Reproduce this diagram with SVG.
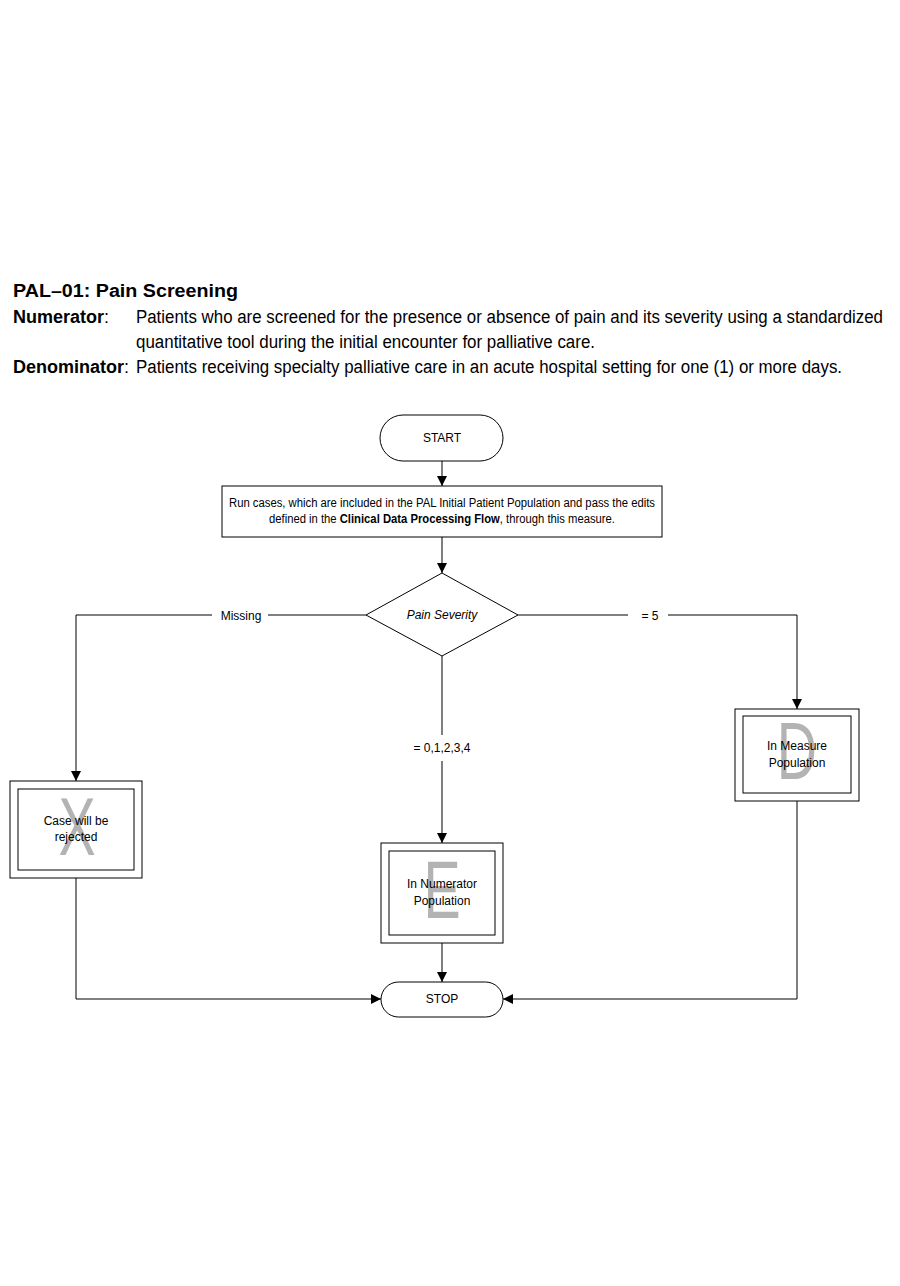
<svg xmlns="http://www.w3.org/2000/svg" width="900" height="1286" viewBox="0 0 900 1286">
<style>
.hd{font-family:"Liberation Sans",Arial,sans-serif;font-size:18px;fill:#000}
.b{font-weight:bold}
.t{font-family:"Liberation Sans",Arial,sans-serif;font-size:12px;fill:#000}
.shape{fill:#fff;stroke:#000;stroke-width:1}
.big{font-family:"Liberation Sans",Arial,sans-serif;font-size:82px;fill:#b3b3b3}
.ln{fill:none;stroke:#000;stroke-width:1}
</style>
<defs>
<marker id="ah" markerWidth="10" markerHeight="10" refX="10" refY="5" orient="auto" markerUnits="userSpaceOnUse">
<path d="M0,0 L10,5 L0,10 Z" fill="#000"/>
</marker>
</defs>
<rect width="900" height="1286" fill="#fff"/>
<g id="header">
<text x="13" y="297" class="hd b" font-size="21" textLength="225" lengthAdjust="spacingAndGlyphs">PAL–01: Pain Screening</text>
<text x="13" y="323" class="hd b">Numerator<tspan font-weight="normal">:</tspan></text>
<text x="136" y="323" class="hd" textLength="747" lengthAdjust="spacingAndGlyphs">Patients who are screened for the presence or absence of pain and its severity using a standardized</text>
<text x="136" y="348" class="hd" textLength="459" lengthAdjust="spacingAndGlyphs">quantitative tool during the initial encounter for palliative care.</text>
<text x="13" y="373" class="hd b">Denominator<tspan font-weight="normal">:</tspan></text>
<text x="136" y="373" class="hd" textLength="706" lengthAdjust="spacingAndGlyphs">Patients receiving specialty palliative care in an acute hospital setting for one (1) or more days.</text>
</g>
<g id="connectors">
<line class="ln" x1="442" y1="461" x2="442" y2="486" marker-end="url(#ah)"/>
<line class="ln" x1="442" y1="537" x2="442" y2="573" marker-end="url(#ah)"/>
<polyline class="ln" points="366,615 268,615"/>
<polyline class="ln" points="212,615 76,615 76,781" marker-end="url(#ah)"/>
<polyline class="ln" points="518,615 628,615"/>
<polyline class="ln" points="668,615 797,615 797,709" marker-end="url(#ah)"/>
<line class="ln" x1="442" y1="656" x2="442" y2="735"/>
<line class="ln" x1="442" y1="761" x2="442" y2="843" marker-end="url(#ah)"/>
<line class="ln" x1="442" y1="943" x2="442" y2="982" marker-end="url(#ah)"/>
<polyline class="ln" points="76,878 76,999 381,999" marker-end="url(#ah)"/>
<polyline class="ln" points="797,801 797,999 503,999" marker-end="url(#ah)"/>
<text x="241" y="620" class="t" text-anchor="middle">Missing</text>
<text x="650" y="620" class="t" text-anchor="middle">= 5</text>
<text x="442" y="752" class="t" text-anchor="middle">= 0,1,2,3,4</text>
</g>
<g id="start">
<rect x="380" y="415" width="123" height="46" rx="23" class="shape"/>
<text x="442" y="442" class="t" text-anchor="middle">START</text>
</g>
<g id="run">
<rect x="222" y="486" width="440" height="51" class="shape"/>
<text x="442" y="507" class="t" text-anchor="middle" textLength="426" lengthAdjust="spacingAndGlyphs">Run cases, which are included in the PAL Initial Patient Population and pass the edits</text>
<text x="442" y="523" class="t" text-anchor="middle" textLength="346" lengthAdjust="spacingAndGlyphs">defined in the <tspan font-weight="bold">Clinical Data Processing Flow</tspan>, through this measure.</text>
</g>
<g id="decision">
<polygon points="442,573 518,615 442,656 366,615" class="shape"/>
<text x="442" y="619" class="t" text-anchor="middle" font-style="italic">Pain Severity</text>
</g>
<g id="rejected">
<rect x="10" y="781" width="132" height="97" class="shape"/>
<rect x="18" y="789" width="116" height="81" class="shape"/>
<text class="big" text-anchor="middle" transform="translate(77,855) scale(0.68,1)">X</text>
<text x="76" y="825" class="t" text-anchor="middle">Case will be</text>
<text x="76" y="841" class="t" text-anchor="middle">rejected</text>
</g>
<g id="numerator">
<rect x="381" y="843" width="122" height="100" class="shape"/>
<rect x="389" y="851" width="106" height="84" class="shape"/>
<text class="big" text-anchor="middle" transform="translate(442,918) scale(0.68,1)">E</text>
<text x="442" y="888" class="t" text-anchor="middle">In Numerator</text>
<text x="442" y="905" class="t" text-anchor="middle">Population</text>
</g>
<g id="measure">
<rect x="735" y="709" width="124" height="92" class="shape"/>
<rect x="743" y="716" width="108" height="77" class="shape"/>
<text class="big" text-anchor="middle" transform="translate(797,779) scale(0.68,1)">D</text>
<text x="797" y="750" class="t" text-anchor="middle">In Measure</text>
<text x="797" y="767" class="t" text-anchor="middle">Population</text>
</g>
<g id="stop">
<rect x="381" y="982" width="122" height="35" rx="17.5" class="shape"/>
<text x="442" y="1003" class="t" text-anchor="middle">STOP</text>
</g>
</svg>
